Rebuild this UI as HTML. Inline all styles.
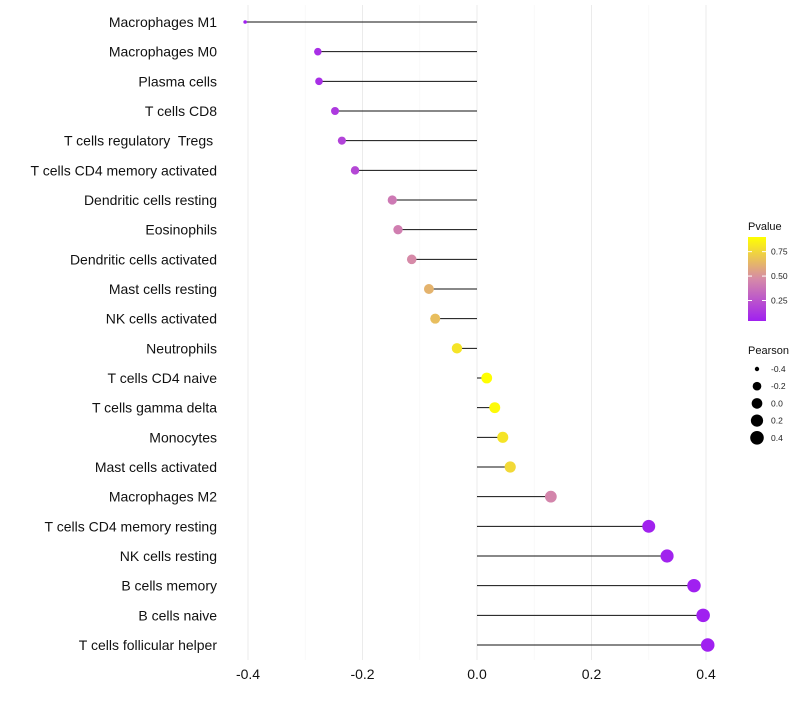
<!DOCTYPE html>
<html><head><meta charset="utf-8"><style>
body{margin:0;background:#fff;font-family:"Liberation Sans",sans-serif}
text{white-space:pre}
</style></head><body>
<svg id="c" width="800" height="700" xmlns="http://www.w3.org/2000/svg"></svg>
<script>
const categories=["Macrophages M1","Macrophages M0","Plasma cells","T cells CD8","T cells regulatory  Tregs ","T cells CD4 memory activated","Dendritic cells resting","Eosinophils","Dendritic cells activated","Mast cells resting","NK cells activated","Neutrophils","T cells CD4 naive","T cells gamma delta","Monocytes","Mast cells activated","Macrophages M2","T cells CD4 memory resting","NK cells resting","B cells memory","B cells naive","T cells follicular helper"];
const pearson=[-0.405,-0.278,-0.276,-0.248,-0.236,-0.213,-0.148,-0.138,-0.114,-0.084,-0.073,-0.035,0.017,0.031,0.045,0.058,0.129,0.300,0.332,0.379,0.395,0.403];
const pvalue=[0.04,0.1,0.1,0.14,0.18,0.2,0.4,0.42,0.47,0.62,0.66,0.8,0.93,0.88,0.8,0.76,0.45,0.05,0.05,0.03,0.02,0.02];
const xTicks=[-0.4,-0.2,0.0,0.2,0.4];
const xTickLabels=["-0.4","-0.2","0.0","0.2","0.4"];
const pTicks=[0.25,0.5,0.75];
const sizeTicks=[-0.4,-0.2,0.0,0.2,0.4];

const svg=document.getElementById('c');
const NS='http://www.w3.org/2000/svg';
function mk(t,a,p){const e=document.createElementNS(NS,t);for(const k in a)e.setAttribute(k,a[k]);(p||svg).appendChild(e);return e;}
const x=v=>477+v*572.5;
const y=i=>22+i*29.667;
const pMin=0.04,pMax=0.9;
function lerp(a,b,t){return a.map((v,i)=>Math.round(v+(b[i]-v)*t));}
function col(p){let t=Math.max(0,Math.min(1,(p-pMin)/(pMax-pMin)));const A=[160,32,240],M=[214,138,168],B=[255,255,0];const c=t<0.5?lerp(A,M,t*2):lerp(M,B,(t-0.5)*2);return `rgb(${c})`;}
const r=v=>{const t=Math.max(0,(v+0.405)/0.81);return 1.8+5*Math.sqrt(t);};

const grid=mk('g',{});


xTicks.forEach(t=>{mk('line',{x1:x(t),x2:x(t),y1:5,y2:660,stroke:'#ebebeb','stroke-width':1},grid);});
for(let i=0;i<xTicks.length-1;i++){const m=(xTicks[i]+xTicks[i+1])/2;mk('line',{x1:x(m),x2:x(m),y1:5,y2:660,stroke:'#f5f5f5','stroke-width':0.6},grid);}
xTicks.forEach((t,i)=>{const e=mk('text',{x:x(t),y:679,'text-anchor':'middle','font-size':14,fill:'#111'});e.textContent=xTickLabels[i];

});

categories.forEach((c,i)=>{
 const l=mk('text',{x:217,y:y(i)+5,'text-anchor':'end','font-size':14,fill:'#111'});l.textContent=c;
 
 
 const s=mk('line',{x1:x(0),x2:x(pearson[i]),y1:y(i),y2:y(i),stroke:'#111','stroke-width':1});
 
 
 const d=mk('circle',{cx:x(pearson[i]),cy:y(i),r:r(pearson[i]),fill:col(pvalue[i])});
 
 
});

const lg=mk('g',{});


const df=mk('defs',{});
const gr=mk('linearGradient',{id:'gr',x1:0,y1:1,x2:0,y2:0},df);
for(let k=0;k<=10;k++){mk('stop',{offset:k/10,'stop-color':col(pMin+(pMax-pMin)*k/10)},gr);}
let tt=mk('text',{x:748,y:230,'font-size':11,fill:'#111'},lg);tt.textContent='Pvalue';
const by=237,bh=84;
mk('rect',{x:748,y:by,width:18,height:bh,fill:'url(#gr)'},lg);
const py=p=>by+bh-(p-pMin)/(pMax-pMin)*bh;
pTicks.forEach(p=>{mk('line',{x1:748,x2:752,y1:py(p),y2:py(p),stroke:'#fff'},lg);mk('line',{x1:762,x2:766,y1:py(p),y2:py(p),stroke:'#fff'},lg);
const e=mk('text',{x:771,y:py(p)+3,'font-size':8.5,fill:'#222'},lg);e.textContent=p.toFixed(2);});
const sg=mk('g',{});


tt=mk('text',{x:748,y:354,'font-size':11,fill:'#111'},sg);tt.textContent='Pearson';
sizeTicks.forEach((s,i)=>{const cy=369+i*17.2;mk('circle',{cx:757,cy:cy,r:r(s),fill:'#000'},sg);
const e=mk('text',{x:771,y:cy+3,'font-size':8.5,fill:'#222'},sg);e.textContent=s.toFixed(1);});
</script>
</body></html>
